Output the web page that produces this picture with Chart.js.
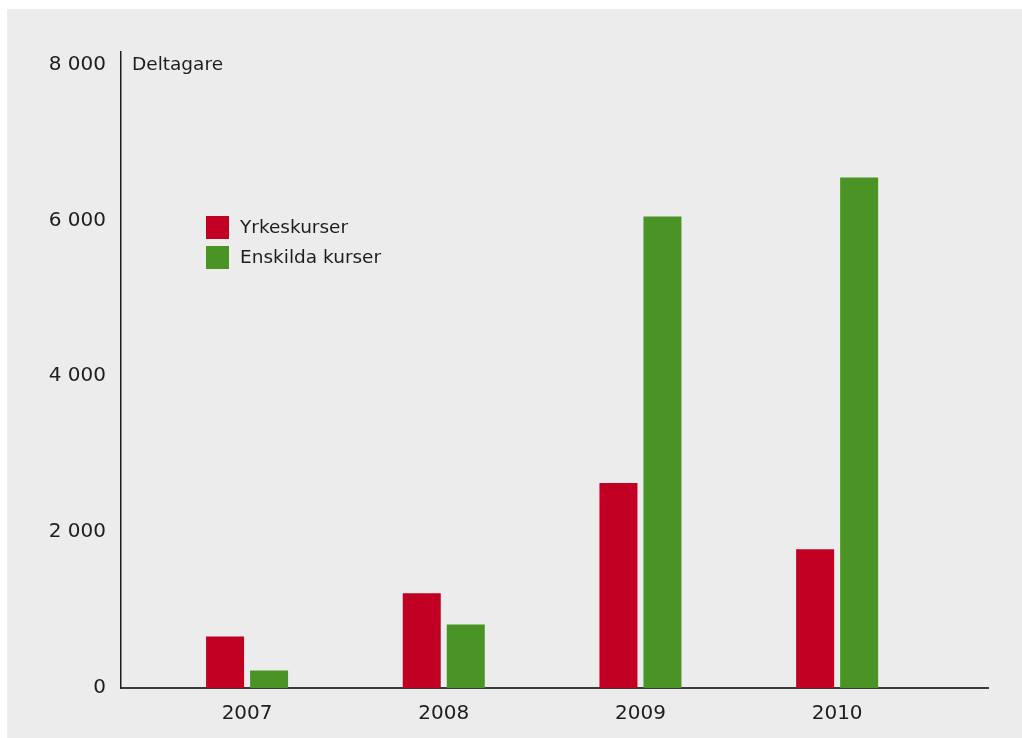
<!DOCTYPE html>
<html>
<head>
<meta charset="utf-8">
<script src="https://cdn.jsdelivr.net/npm/chart.js@4/dist/chart.umd.min.js"></script>
<style>
  html, body { margin: 0; padding: 0; background: #ffffff; }
  #wrap { width: 1022px; height: 738px; position: relative; }
</style>
</head>
<body>
<div id="wrap"><canvas id="c" width="1022" height="738"></canvas></div>
<script>
// Participants per year
const years = [2007, 2008, 2009, 2010];
const yrkeskurser = [660, 1215, 2630, 1780];
const enskildaKurser = [225, 815, 6050, 6550];
const seriesNames = ['Yrkeskurser', 'Enskilda kurser'];
const yTicks = [0, 2000, 4000, 6000, 8000];
const yTitle = 'Deltagare';

const RED = '#c10023';
const GREEN = '#4a9325';
const PANEL = '#ebeceb';
const FONT = '"DejaVu Sans", sans-serif';

// thousands separated by a space: 8 000
const fmt = v => String(v).replace(/\B(?=(\d{3})+(?!\d))/g, ' ');

// Grey panel behind the chart, plus axis title and legend
const decor = {
  id: 'decor',
  beforeDraw(chart) {
    const ctx = chart.ctx;
    ctx.save();
    ctx.fillStyle = '#ffffff';
    ctx.fillRect(0, 0, chart.width, chart.height);
    ctx.fillStyle = PANEL;
    ctx.fillRect(7, 9, chart.width - 7, chart.height - 9);
    ctx.restore();
  },
  afterDraw(chart) {
    const ctx = chart.ctx;
    const area = chart.chartArea;
    ctx.save();
    ctx.fillStyle = '#1e1e1e';
    ctx.font = '18.5px ' + FONT;
    ctx.textBaseline = 'alphabetic';
    ctx.textAlign = 'left';
    ctx.fillText(yTitle, area.left + 11, 70);

    // legend
    const lx = 206, ly = 216, box = 23, step = 30;
    chart.data.datasets.forEach((ds, i) => {
      ctx.fillStyle = ds.backgroundColor;
      ctx.fillRect(lx, ly + i * step, box, box);
      ctx.fillStyle = '#1e1e1e';
      ctx.textBaseline = 'middle';
      ctx.fillText(ds.label, lx + 34, ly + i * step + box / 2 + 1);
    });
    ctx.restore();
  }
};

const toPoints = arr => arr.map((v, i) => ({ x: years[i], y: v }));

new Chart(document.getElementById('c'), {
  type: 'bar',
  data: {
    datasets: [
      { label: seriesNames[0], data: toPoints(yrkeskurser), backgroundColor: RED,
        categoryPercentage: 0.4475, barPercentage: 0.8636 },
      { label: seriesNames[1], data: toPoints(enskildaKurser), backgroundColor: GREEN,
        categoryPercentage: 0.4475, barPercentage: 0.8636 }
    ]
  },
  options: {
    responsive: false,
    animation: false,
    devicePixelRatio: 1,
    layout: { padding: { top: 52, right: 34, left: 0, bottom: 0 } },
    plugins: { legend: { display: false }, tooltip: { enabled: false } },
    scales: {
      x: {
        type: 'linear',
        offset: false,
        min: 2006.359,
        max: 2010.767,
        grid: { display: false, drawTicks: false },
        border: { display: true, color: '#3b3b3b', width: 2 },
        afterBuildTicks: s => { s.ticks = years.map(v => ({ value: v })); },
        afterFit: s => { s.height = 50; },
        ticks: {
          autoSkip: false,
          padding: 14,
          color: '#1e1e1e',
          font: { family: FONT, size: 20 },
          callback: v => String(v)
        }
      },
      y: {
        min: 0,
        max: 8160,
        grid: { display: false, drawTicks: false },
        border: { display: true, color: '#1e1e1e', width: 1.5 },
        afterBuildTicks: s => { s.ticks = yTicks.map(v => ({ value: v })); },
        afterFit: s => { s.width = 121; },
        ticks: {
          padding: 15,
          color: '#1e1e1e',
          font: { family: FONT, size: 20 },
          callback: v => fmt(v)
        }
      }
    }
  },
  plugins: [decor]
});
</script>
</body>
</html>
